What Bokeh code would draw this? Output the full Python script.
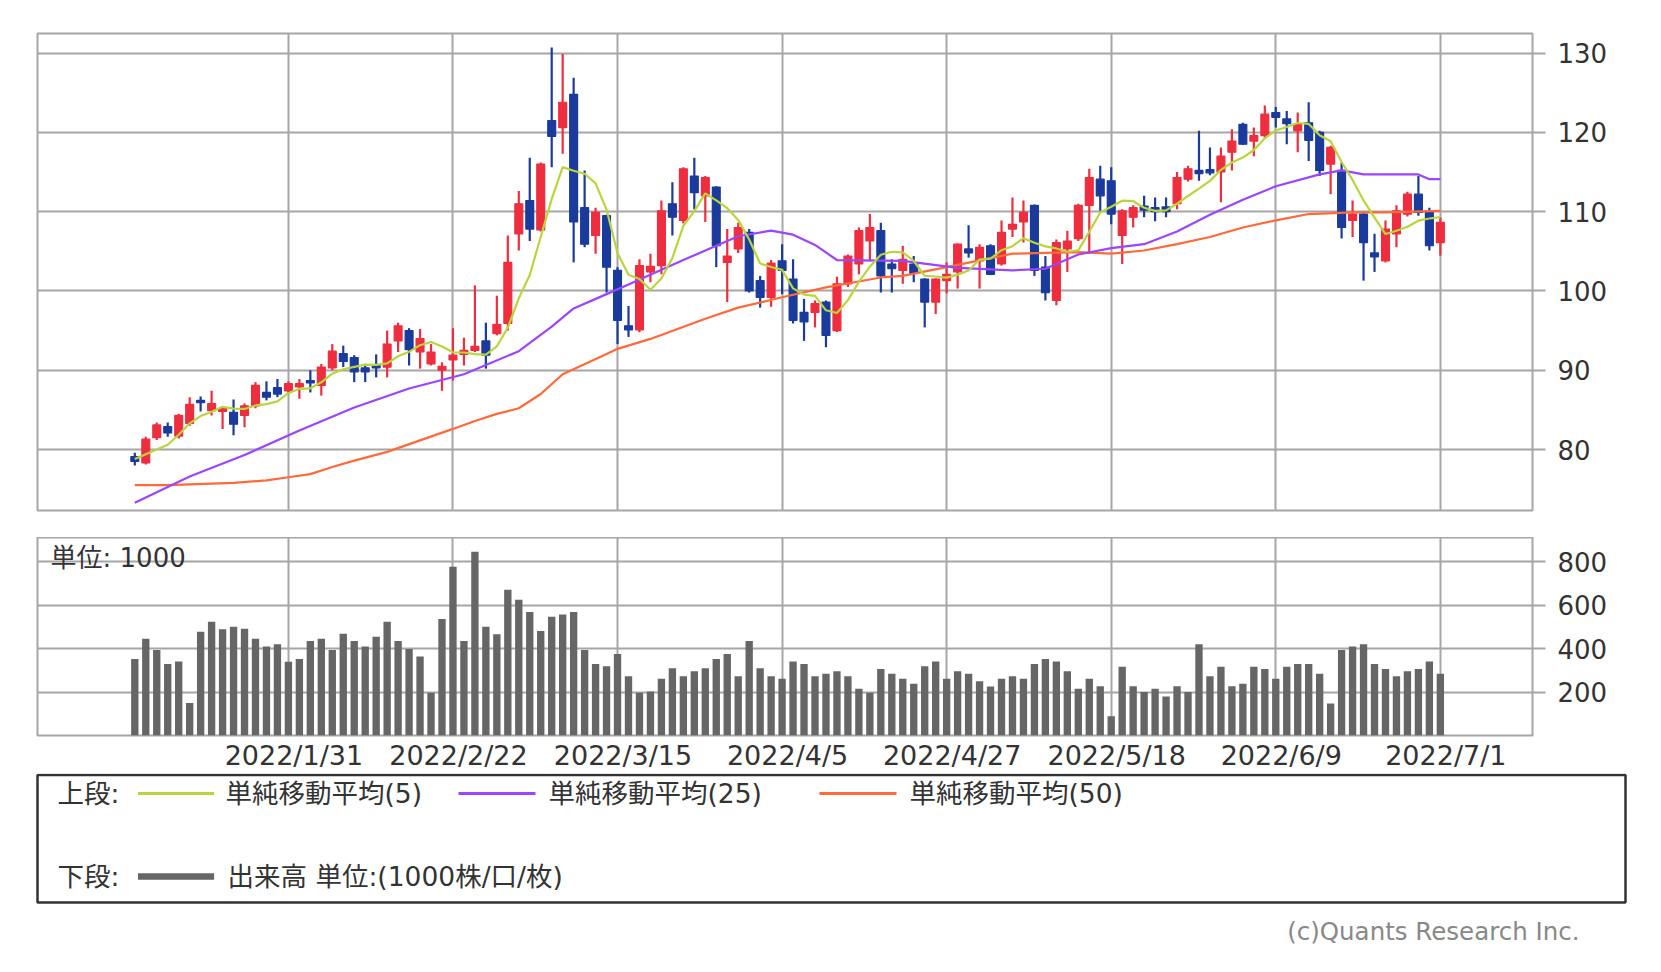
from bokeh.plotting import figure
from bokeh.models import Range1d, FixedTicker, ColumnDataSource, Grid, Label
from bokeh.layouts import column
from bokeh.embed import file_html
from bokeh.resources import INLINE
from bokeh.core.properties import value

# ---------------- data ----------------
opens = [79.1,78.3,81.5,82.9,81.7,83.3,86.2,84.9,84.8,84.7,
84.3,85.5,87.2,87.8,87.4,87.9,88.7,88.1,90.3,92.1,
91.6,90.3,90.7,90.4,93.7,95.0,92.3,90.8,90.0,91.3,
92.0,92.5,93.7,94.6,95.9,107.2,111.4,107.7,121.5,120.6,
124.8,110.5,107.0,109.5,102.6,95.6,95.1,102.4,103.2,111.0,
108.9,114.5,112.0,113.1,103.6,105.3,107.4,101.3,99.2,103.8,
101.5,97.3,97.3,98.6,95.0,100.9,103.4,106.3,107.6,103.4,
102.6,103.4,101.5,98.6,101.3,102.4,105.3,103.8,105.7,103.4,
107.8,108.7,110.8,103.0,98.8,105.3,106.6,110.8,114.1,113.9,
107.0,109.3,110.7,110.5,110.6,111.0,114.1,115.2,115.3,115.0,
117.5,121.0,118.9,119.6,122.5,121.7,120.2,121.2,120.0,116.0,
115.2,108.9,109.7,104.8,103.8,107.2,109.7,112.2,109.9,106.1]

highs = [79.6,81.6,83.4,83.4,84.5,86.6,86.7,87.4,85.5,86.3,
85.8,88.5,88.6,88.9,88.6,88.9,90.0,90.8,93.3,93.1,
91.9,90.8,92.0,95.0,96.0,95.3,95.2,93.3,91.0,95.3,
94.1,100.7,96.0,99.4,107.0,112.6,116.8,116.2,130.7,129.9,
126.9,115.2,110.5,109.6,103.0,98.1,104.0,104.7,111.4,113.7,
115.6,116.8,114.5,113.2,107.8,108.6,107.8,101.9,103.9,105.9,
104.0,99.0,98.8,98.8,101.8,104.6,108.0,109.7,108.6,104.0,
105.7,104.4,101.6,101.6,103.6,106.0,108.3,105.9,105.9,108.9,
111.8,111.4,110.9,104.4,106.5,107.6,111.0,115.4,115.8,115.6,
110.3,110.8,112.0,111.8,111.8,115.0,115.8,120.2,118.1,118.1,
120.4,121.2,120.6,123.4,123.2,122.7,122.5,123.8,120.2,118.3,
116.2,111.4,109.8,107.2,108.9,110.8,112.5,114.5,110.5,109.3]

lows = [78.0,78.1,81.2,81.6,81.4,83.0,84.8,84.3,82.6,81.8,
82.8,85.2,86.2,86.6,87.0,86.4,87.2,86.8,90.0,90.4,
88.5,88.5,89.1,89.1,92.3,90.6,90.2,90.6,87.4,88.7,
90.6,92.3,90.2,94.4,95.0,105.1,106.3,107.5,115.6,117.3,
103.6,105.5,104.7,99.8,93.3,94.2,94.8,101.1,102.1,107.0,
108.5,110.3,108.7,103.0,98.6,104.8,99.8,97.9,98.0,99.6,
95.9,93.7,95.4,92.9,94.8,100.5,102.1,103.8,99.8,99.8,
100.9,101.1,95.4,97.1,99.7,100.3,104.2,100.3,102.0,103.2,
106.8,106.1,101.9,98.8,98.2,102.4,106.3,104.7,110.1,108.4,
103.4,108.0,109.3,108.8,109.3,110.3,113.8,113.9,114.6,111.2,
115.2,118.4,117.0,119.2,120.6,118.5,117.5,116.4,114.5,112.2,
106.6,106.8,101.3,102.4,103.6,105.5,109.4,109.5,105.1,104.45]

closes = [78.5,81.3,83.1,82.1,84.3,85.7,85.9,85.8,85.2,83.2,
85.5,88.1,86.6,87.0,88.3,88.3,88.4,90.4,92.4,91.1,
89.8,89.8,90.3,93.3,95.6,92.6,94.0,92.3,90.5,91.9,
92.5,93.0,91.9,95.8,103.6,111.0,107.8,116.0,119.5,123.8,
108.7,105.9,109.9,103.0,96.3,95.1,103.2,103.1,110.1,109.3,
115.4,112.4,114.3,105.7,104.4,108.0,100.0,99.2,103.5,102.6,
96.3,96.1,98.4,94.4,100.9,104.4,107.6,108.0,101.9,102.8,
104.0,102.2,98.6,101.5,102.1,105.9,104.8,105.5,102.1,107.4,
108.4,109.9,102.6,99.8,106.1,106.3,110.8,114.3,112.0,109.7,
110.1,110.5,110.2,110.0,110.0,114.3,115.4,114.8,114.9,117.0,
118.9,118.5,119.6,122.3,121.9,121.1,121.0,119.0,115.2,118.1,
108.0,109.7,106.1,104.3,107.8,110.1,112.2,109.9,105.7,108.65]

volume = [352,446,394,329,341,150,478,524,489,501,
492,446,410,420,340,352,435,446,394,469,
435,410,455,524,435,398,364,197,537,777,
435,846,501,466,671,625,569,481,547,557,
569,394,329,319,375,273,197,203,261,310,
273,296,310,352,375,273,435,310,273,261,
341,329,273,284,296,273,215,197,306,284,
261,238,319,341,261,296,284,250,226,261,
273,261,329,352,341,296,215,261,227,89,
317,227,200,215,180,227,200,420,273,317,
227,238,317,306,261,317,329,329,284,147,
394,410,420,329,306,273,296,306,341,284]

# first four 5-day averages (earlier closes are not visible)
ma5_head = [78.8, 79.4, 80.0, 80.6]

ma25_idx = [0,5,10,15,20,25,30,35,38,40,43,45,50,55,58,60,62,64,70,75,80,83,86,89,92,95,98,101,104,108,110,112,115,117,118,119]
ma25_val = [73.3,76.6,79.3,82.4,85.3,87.7,89.5,92.4,95.5,97.8,99.6,100.8,103.9,106.9,107.6,107.1,105.8,103.9,103.8,102.9,102.6,102.8,104.6,105.4,105.9,107.5,109.6,111.5,113.2,114.7,115.2,114.7,114.7,114.7,114.1,114.1]

ma50_idx = [0,3,9,12,14,16,18,20,23,29,31,33,35,37,39,43,44,47,52,55,59,63,68,70,74,80,86,89,92,95,98,101,104,107,111,114,119]
ma50_val = [75.5,75.5,75.8,76.1,76.5,76.9,77.8,78.6,79.7,82.6,83.6,84.5,85.2,87.0,89.5,92.05,92.7,93.95,96.5,97.9,99.2,100.45,101.7,101.9,103.0,104.7,104.9,104.7,105.1,105.9,106.8,108.0,108.9,109.7,109.9,109.9,110.1]

tick_index = [14, 29, 44, 59, 74, 89, 104, 119]
tick_labels = ["2022/1/31", "2022/2/22", "2022/3/15", "2022/4/5",
               "2022/4/27", "2022/5/18", "2022/6/9", "2022/7/1"]
price_ticks = [80, 90, 100, 110, 120, 130]
volume_ticks = [200, 400, 600, 800]

legend_row1 = ["上段:", "単純移動平均(5)", "単純移動平均(25)", "単純移動平均(50)"]
legend_row2 = ["下段:", "出来高 単位:(1000株/口/枚)"]
unit_text = "単位: 1000"
copyright_text = "(c)Quants Research Inc."

# ---------------- styling ----------------
RED = "#EE2D3E"
BLUE = "#1A3A9C"
GREEN = "#B9D53C"
PURPLE = "#9A45FF"
ORANGE = "#FF6A3A"
GRID = "#A6A6A6"
VOLC = "#666666"
TXT = "#333333"
FONT = "DejaVu Sans, Noto Sans CJK JP"

W = 1650
LEFT = 37          # frame left edge (px)
RIGHT = W - 1532   # border right of the frame (px)
n = len(closes)
idx = list(range(n))
ma5 = ma5_head + [sum(closes[i - 4:i + 1]) / 5 for i in range(4, n)]

x_range = Range1d(-8.87, 127.4)


def style_right_axis(ax, ticks):
    ax.ticker = FixedTicker(ticks=ticks)
    ax.axis_line_color = None
    ax.major_tick_in = 0
    ax.major_tick_out = 13
    ax.major_tick_line_color = GRID
    ax.major_tick_line_width = 2
    ax.minor_tick_line_color = None
    ax.major_label_standoff = 12
    ax.major_label_text_font = "DejaVu Sans"
    ax.major_label_text_font_size = "26px"
    ax.major_label_text_color = TXT


def add_grids(fig, yticks):
    fig.xgrid.grid_line_color = None
    fig.ygrid.grid_line_color = None
    fig.add_layout(Grid(dimension=0, ticker=FixedTicker(ticks=tick_index),
                        grid_line_color=GRID, grid_line_width=2))
    fig.add_layout(Grid(dimension=1, ticker=FixedTicker(ticks=yticks),
                        grid_line_color=GRID, grid_line_width=2))


# ---------------- price panel ----------------
p = figure(width=W, height=537, x_range=x_range, y_range=Range1d(72.31, 132.47),
           output_backend="svg", toolbar_location=None, title=None,
           x_axis_location=None, y_axis_location="right",
           min_border_left=LEFT, min_border_right=RIGHT, min_border_top=33, min_border_bottom=27)
p.outline_line_color = GRID
p.outline_line_width = 2
style_right_axis(p.yaxis[0], price_ticks)
add_grids(p, price_ticks)

colors = [RED if c >= o else BLUE for o, c in zip(opens, closes)]
src = ColumnDataSource(dict(
    x=idx, h=highs, l=lows,
    top=[max(o, c) for o, c in zip(opens, closes)],
    bottom=[min(o, c) for o, c in zip(opens, closes)],
    color=colors))
p.segment(x0="x", y0="l", x1="x", y1="h", line_color="color", line_width=2.2, source=src)
p.vbar(x="x", width=0.72, top="top", bottom="bottom", fill_color="color",
       line_color="color", line_width=1.2, source=src)

p.line(ma50_idx, ma50_val, line_color=ORANGE, line_width=2.2)
p.line(ma25_idx, ma25_val, line_color=PURPLE, line_width=2.2)
p.line(idx, ma5, line_color=GREEN, line_width=2.2)

# ---------------- volume panel ----------------
v = figure(width=W, height=236, x_range=x_range, y_range=Range1d(0, 912),
           output_backend="svg", toolbar_location=None, title=None,
           x_axis_location="below", y_axis_location="right",
           min_border_left=LEFT, min_border_right=RIGHT, min_border_top=0, min_border_bottom=36)
v.outline_line_color = GRID
v.outline_line_width = 2
style_right_axis(v.yaxis[0], volume_ticks)
add_grids(v, volume_ticks)

xa = v.xaxis[0]
label_pos = [t + 0.5 for t in tick_index]
xa.ticker = FixedTicker(ticks=label_pos)
xa.major_label_overrides = {pos: lab for pos, lab in zip(label_pos, tick_labels)}
xa.axis_line_color = None
xa.major_tick_line_color = None
xa.minor_tick_line_color = None
xa.major_tick_out = 0
xa.major_tick_in = 0
xa.major_label_standoff = 4
xa.major_label_text_font = "DejaVu Sans"
xa.major_label_text_font_size = "27px"
xa.major_label_text_color = TXT

v.vbar(x=idx, top=volume, width=0.67, fill_color=VOLC, line_color=None)
v.add_layout(Label(x=-7.68, y=819, text=unit_text, text_font=FONT,
                   text_font_size="26px", text_color=TXT,
                   text_baseline="middle", text_align="left"))

# ---------------- legend box ----------------
LH = 192
lg = figure(width=W, height=LH, x_range=Range1d(0, W), y_range=Range1d(LH, 0),
            output_backend="svg", toolbar_location=None, title=None,
            x_axis_location=None, y_axis_location=None, min_border=0)
lg.outline_line_color = None
lg.grid.visible = False
lg.quad(left=[37], right=[1625], top=[1.5], bottom=[129], fill_color=None,
        line_color="#333333", line_width=2.5)
lg.segment(x0=[137.5, 458, 819], y0=[20, 20, 20], x1=[213.6, 535, 896], y1=[20, 20, 20],
           line_color=[GREEN, PURPLE, ORANGE], line_width=3)
lg.segment(x0=[137.5], y0=[103], x1=[213.6], y1=[103], line_color=VOLC, line_width=6.5)
lg.text(x=[57, 225, 548, 909], y=[20, 20, 20, 20], text=legend_row1,
        text_font=value(FONT), text_font_size=value("26.5px"), text_color=TXT,
        text_baseline="middle", text_align="left")
lg.text(x=[57, 227], y=[103, 103], text=legend_row2,
        text_font=value(FONT), text_font_size=value("26.5px"), text_color=TXT,
        text_baseline="middle", text_align="left")
lg.text(x=[1579], y=[158], text=[copyright_text],
        text_font=value("DejaVu Sans"), text_font_size=value("24.5px"), text_color="#888888",
        text_baseline="middle", text_align="right")

if "frame_align" in lg.properties():
    lg.frame_align = False
    root = column(p, v, lg, spacing=0)
else:
    root = [column(p, v, spacing=0), lg]

open("out.html", "w").write(file_html(root, INLINE))
